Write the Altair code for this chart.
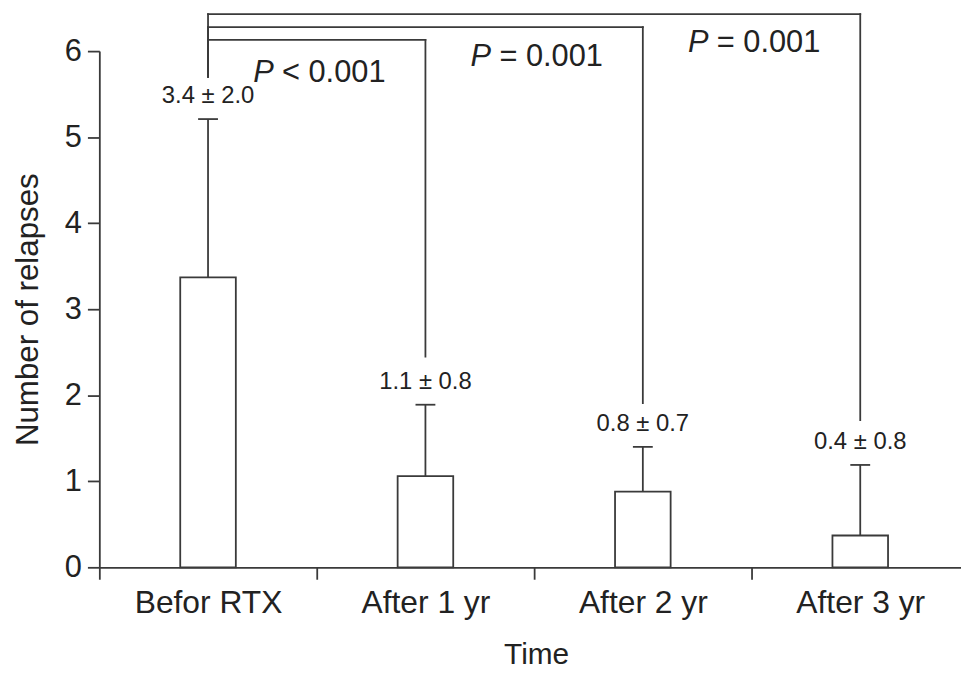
import altair as alt
import pandas as pd

# ---- data ----
categories = ["Befor RTX", "After 1 yr", "After 2 yr", "After 3 yr"]
means = [3.37, 1.06, 0.88, 0.37]
upper = [5.21, 1.89, 1.40, 1.19]
value_labels = ["3.4 \u00b1 2.0", "1.1 \u00b1 0.8", "0.8 \u00b1 0.7", "0.4 \u00b1 0.8"]

bracket_from = ["Befor RTX", "Befor RTX", "Befor RTX"]
bracket_to = ["After 1 yr", "After 2 yr", "After 3 yr"]
bracket_level = [6.13, 6.28, 6.43]
bracket_start_low = [5.70, 5.70, 5.70]
bracket_end_low = [2.45, 1.91, 1.71]

p_left_cat = ["Befor RTX", "After 1 yr", "After 2 yr"]
p_values = ["< 0.001", "= 0.001", "= 0.001"]
p_level = [5.64, 5.83, 5.99]

FONT = "Liberation Sans, Arial, Helvetica, sans-serif"
LINE = "#3a3a3a"
TEXT = "#222222"
SW = 1.8

bars_df = pd.DataFrame({"cat": categories, "mean": means, "upper": upper, "label": value_labels})
br_df = pd.DataFrame({
    "from": bracket_from, "to": bracket_to, "level": bracket_level,
    "slow": bracket_start_low, "elow": bracket_end_low,
})
p_df = pd.DataFrame({"pcat": p_left_cat, "ptxt": p_values, "py": p_level, "P": ["P"] * 3})

xscale = alt.Scale(domain=categories, paddingInner=0, paddingOuter=0)
yscale = alt.Scale(domain=[0, 6], nice=False, zero=True)

xaxis = alt.Axis(
    title="Time", labelAngle=0, tickBand="extent", tickSize=12, labelPadding=9,
    labelFontSize=32, titleFontSize=30, titlePadding=21, titleX=440,
    labelFont=FONT, titleFont=FONT,
)
yaxis = alt.Axis(
    title="Number of relapses", values=[0, 1, 2, 3, 4, 5, 6], format="d", tickSize=12, labelPadding=6,
    labelFontSize=31, titleFontSize=31.5, titlePadding=20, grid=False,
    labelFont=FONT, titleFont=FONT,
)


def X(field, **kw):
    return alt.X(f"{field}:N", scale=xscale, sort=categories, title="Time", **kw)


def Y(field):
    return alt.Y(f"{field}:Q", scale=yscale, title="Number of relapses")


bars = alt.Chart(bars_df).mark_bar(width=56, fill="white", stroke=LINE, strokeWidth=SW).encode(
    x=alt.X("cat:N", scale=xscale, sort=categories, axis=xaxis),
    y=alt.Y("mean:Q", scale=yscale, axis=yaxis),
)

err = alt.Chart(bars_df).mark_rule(color=LINE, strokeWidth=SW).encode(
    x=X("cat"), y=Y("mean"), y2="upper:Q"
)

caps = alt.Chart(bars_df).mark_tick(size=20, thickness=SW, color=LINE, opacity=1).encode(
    x=X("cat"), y=Y("upper")
)

vlabels = alt.Chart(bars_df).mark_text(
    dy=-16, baseline="alphabetic", fontSize=24, font=FONT, color=TEXT
).encode(x=X("cat"), y=Y("upper"), text="label:N")

br_left = alt.Chart(br_df).mark_rule(color=LINE, strokeWidth=SW, strokeCap="square").encode(
    x=X("from"), y=Y("slow"), y2="level:Q"
)
br_top = alt.Chart(br_df).mark_rule(color=LINE, strokeWidth=SW, strokeCap="square").encode(
    x=X("from", bandPosition=0.5), x2=alt.X2("to", bandPosition=0.5), y=Y("level")
)
br_right = alt.Chart(br_df).mark_rule(color=LINE, strokeWidth=SW, strokeCap="square").encode(
    x=X("to"), y=Y("elow"), y2="level:Q"
)

p_italic = alt.Chart(p_df).mark_text(
    align="left", baseline="alphabetic", dx=-64, fontSize=31, fontStyle="italic", font=FONT, color=TEXT
).encode(x=X("pcat", bandPosition=1), y=Y("py"), text="P:N")
p_rest = alt.Chart(p_df).mark_text(
    align="left", baseline="alphabetic", dx=-35, fontSize=31, font=FONT, color=TEXT
).encode(x=X("pcat", bandPosition=1), y=Y("py"), text="ptxt:N")

chart = alt.layer(
    bars, err, caps, vlabels, br_left, br_top, br_right, p_italic, p_rest
).properties(
    width=876, height=520,
    autosize=alt.AutoSizeParams(type="none"),
    padding={"left": 92, "top": 41, "right": -8, "bottom": 100},
).configure_view(stroke=None).configure_axis(
    domainColor=LINE, domainWidth=SW, tickColor=LINE, tickWidth=SW,
    labelColor=TEXT, titleColor=TEXT, titleFontWeight="normal", grid=False,
)

chart.save("out.html", embed_options={"renderer": "svg", "actions": False})
